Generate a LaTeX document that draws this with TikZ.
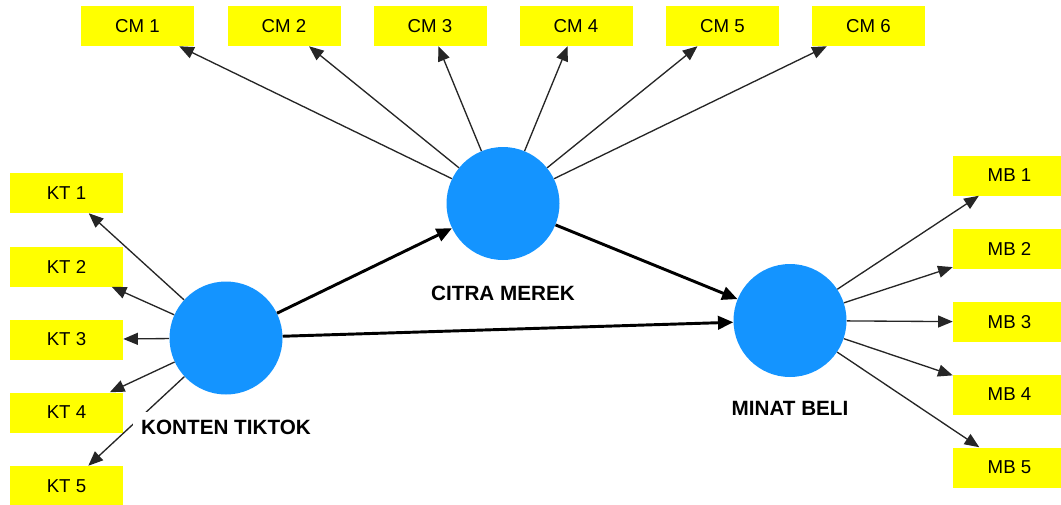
\documentclass[tikz,border=0pt]{standalone}
\usepackage{fontspec}
\setmainfont{Liberation Sans}
\usetikzlibrary{arrows.meta}
\definecolor{lvblue}{RGB}{20,148,255}
\definecolor{indyellow}{RGB}{255,255,0}
\tikzset{
  indbox/.style={rectangle, fill=indyellow, minimum width=84.75pt, minimum height=30pt, inner sep=0pt, font=\fontsize{14pt}{16pt}\selectfont},
  latent/.style={circle, fill=lvblue, minimum size=84.75pt, inner sep=0pt},
  lvlabel/.style={fill=white, inner sep=6pt, font=\fontsize{15.5pt}{18pt}\selectfont\bfseries},
  loadarrow/.style={draw=black!85, line width=1pt, -{Triangle[length=11pt,width=9pt]}},
  patharrow/.style={draw=black, line width=2.2pt, -{Triangle[length=11.5pt,width=10pt]}}
}
\begin{document}
\begin{tikzpicture}[x=0.75pt,y=-0.75pt]
\useasboundingbox (0,0) rectangle (1061,504);
% latent variables
\node[latent] (kt) at (226,338) {};
\node[latent] (cm) at (503,203.5) {};
\node[latent] (mb) at (790,320.5) {};
% CM indicators
\node[indbox] (cm1) at (137.5,26) {CM 1};
\node[indbox] (cm2) at (284,26) {CM 2};
\node[indbox] (cm3) at (430,26) {CM 3};
\node[indbox] (cm4) at (576,26) {CM 4};
\node[indbox] (cm5) at (722.5,26) {CM 5};
\node[indbox] (cm6) at (868.5,26) {CM 6};
% KT indicators
\node[indbox] (kt1) at (66.5,193) {KT 1};
\node[indbox] (kt2) at (66.5,266.5) {KT 2};
\node[indbox] (kt3) at (66.5,339.5) {KT 3};
\node[indbox] (kt4) at (66.5,412.5) {KT 4};
\node[indbox] (kt5) at (66.5,486) {KT 5};
% MB indicators
\node[indbox] (mb1) at (1009.5,175.5) {MB 1};
\node[indbox] (mb2) at (1009.5,248.5) {MB 2};
\node[indbox] (mb3) at (1009.5,322) {MB 3};
\node[indbox] (mb4) at (1009.5,394.5) {MB 4};
\node[indbox] (mb5) at (1009.5,467.5) {MB 5};
% loadings
\foreach \i in {1,...,6} \draw[loadarrow] (cm) -- (cm\i);
\foreach \i in {1,...,5} \draw[loadarrow] (kt) -- (kt\i);
\foreach \i in {1,...,5} \draw[loadarrow] (mb) -- (mb\i);
% structural paths
\draw[patharrow] (kt) -- (cm);
\draw[patharrow] (cm) -- (mb);
\draw[patharrow] (kt) -- (mb);
% labels
\node[lvlabel] (ktl) at (226,427) {KONTEN TIKTOK};
\node[lvlabel] (cml) at (503,293) {CITRA MEREK};
\node[lvlabel] (mbl) at (790,408) {MINAT BELI};
\end{tikzpicture}
\end{document}
